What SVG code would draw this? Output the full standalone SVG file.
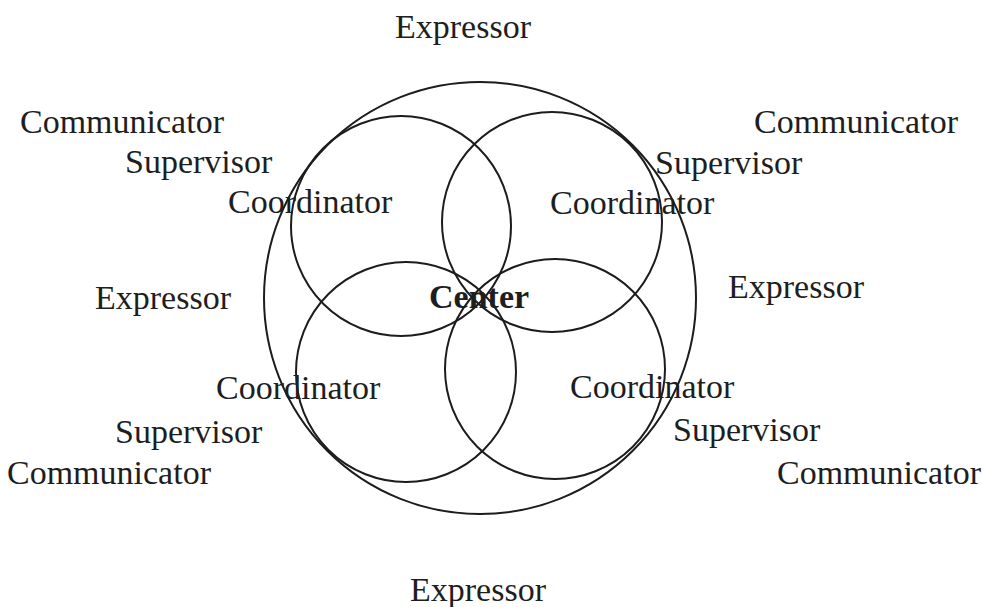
<svg xmlns="http://www.w3.org/2000/svg" width="983" height="607" viewBox="0 0 983 607">
<style>
.c{fill:none;stroke:#1c1c1c;stroke-width:2}
.t{font-family:"Liberation Serif","Times New Roman",serif;font-size:34px;fill:#1e1e1e}
.b{font-weight:bold}
</style>
<rect width="983" height="607" fill="#ffffff"/>
<g id="outer"><circle class="c" cx="480" cy="298" r="216"/></g>
<g id="circle-tl"><circle class="c" cx="401" cy="226" r="110"/></g>
<g id="circle-tr"><circle class="c" cx="552" cy="222" r="110"/></g>
<g id="circle-bl"><circle class="c" cx="406" cy="372" r="110"/></g>
<g id="circle-br"><circle class="c" cx="555" cy="369" r="110"/></g>
<g id="connectors"></g>
<g id="labels">
<g id="center"><text class="t b" x="429" y="308">Center</text></g>
<g id="expr-top"><text class="t" x="395" y="38">Expressor</text></g>
<g id="expr-left"><text class="t" x="95" y="309">Expressor</text></g>
<g id="expr-right"><text class="t" x="728" y="298">Expressor</text></g>
<g id="expr-bottom"><text class="t" x="410" y="601">Expressor</text></g>
<g id="tl"><text class="t" x="20" y="133">Communicator</text><text class="t" x="125" y="173">Supervisor</text><text class="t" x="228" y="213">Coordinator</text></g>
<g id="tr"><text class="t" x="754" y="133">Communicator</text><text class="t" x="655" y="174">Supervisor</text><text class="t" x="550" y="214">Coordinator</text></g>
<g id="bl"><text class="t" x="216" y="399">Coordinator</text><text class="t" x="115" y="443">Supervisor</text><text class="t" x="7" y="484">Communicator</text></g>
<g id="br"><text class="t" x="570" y="398">Coordinator</text><text class="t" x="673" y="441">Supervisor</text><text class="t" x="777" y="484">Communicator</text></g>
</g>
</svg>
